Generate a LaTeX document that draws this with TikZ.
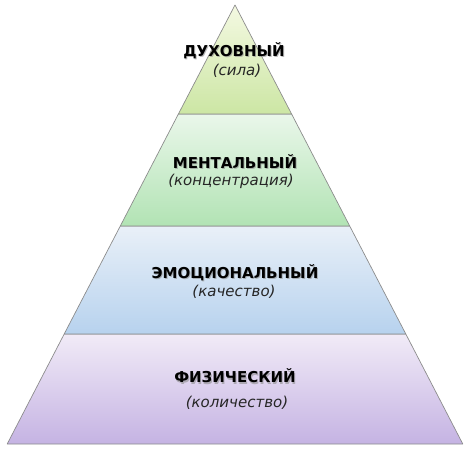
\documentclass[tikz,border=0pt]{standalone}
\usepackage{fontspec}
\setmainfont{DejaVu Sans}
\definecolor{spiritTop}{HTML}{F4F9E2}
\definecolor{spiritBot}{HTML}{CCE6A4}
\definecolor{mindTop}{HTML}{EAF7EA}
\definecolor{mindBot}{HTML}{B2E3B4}
\definecolor{emoTop}{HTML}{E9F0F8}
\definecolor{emoBot}{HTML}{B7D2EE}
\definecolor{bodyTop}{HTML}{F1EBF7}
\definecolor{bodyBot}{HTML}{C5B3E3}
\definecolor{edge}{HTML}{8C8C8C}
\tikzset{
  band/.style={draw=edge,line width=.7pt,line join=round},
  title/.style={font=\fontsize{15}{17}\selectfont\bfseries,text=black,inner sep=0pt},
  titleshadow/.style={title,text=black!45,text opacity=.6},
  subtitle/.style={font=\fontsize{15}{17}\selectfont\itshape,text=black!85,inner sep=0pt}
}
\newcommand\bandtitle[3]{%
  \node[titleshadow] at ([shift={(1,-1.2)}]#2) {#3};
  \node[title] (#1) at (#2) {#3};}
\begin{document}
\begin{tikzpicture}[x=1pt,y=1pt]
  \useasboundingbox (0,0) rectangle (471,453);
  % bands, bottom to top
  \shade[band,top color=bodyTop,bottom color=bodyBot]
    (7.2,9) -- (462.8,9) -- (405.8,119) -- (64.2,119) -- cycle;
  \shade[band,top color=emoTop,bottom color=emoBot]
    (64.2,119) -- (405.8,119) -- (349.7,227) -- (120.3,227) -- cycle;
  \shade[band,top color=mindTop,bottom color=mindBot]
    (120.3,227) -- (349.7,227) -- (291.6,339) -- (178.4,339) -- cycle;
  \shade[band,top color=spiritTop,bottom color=spiritBot]
    (178.4,339) -- (291.6,339) -- (235,448) -- cycle;
  % labels
  \bandtitle{spirit}{234,402}{ДУХОВНЫЙ}
  \node[subtitle] (spiritSub) at (237,382) {(сила)};
  \bandtitle{mind}{235,291.5}{МЕНТАЛЬНЫЙ}
  \node[subtitle] (mindSub) at (231,271.5) {(концентрация)};
  \bandtitle{emo}{235,180.5}{ЭМОЦИОНАЛЬНЫЙ}
  \node[subtitle] (emoSub) at (234,161.5) {(качество)};
  \bandtitle{body}{235,77}{ФИЗИЧЕСКИЙ}
  \node[subtitle] (bodySub) at (237,50) {(количество)};
\end{tikzpicture}
\end{document}
